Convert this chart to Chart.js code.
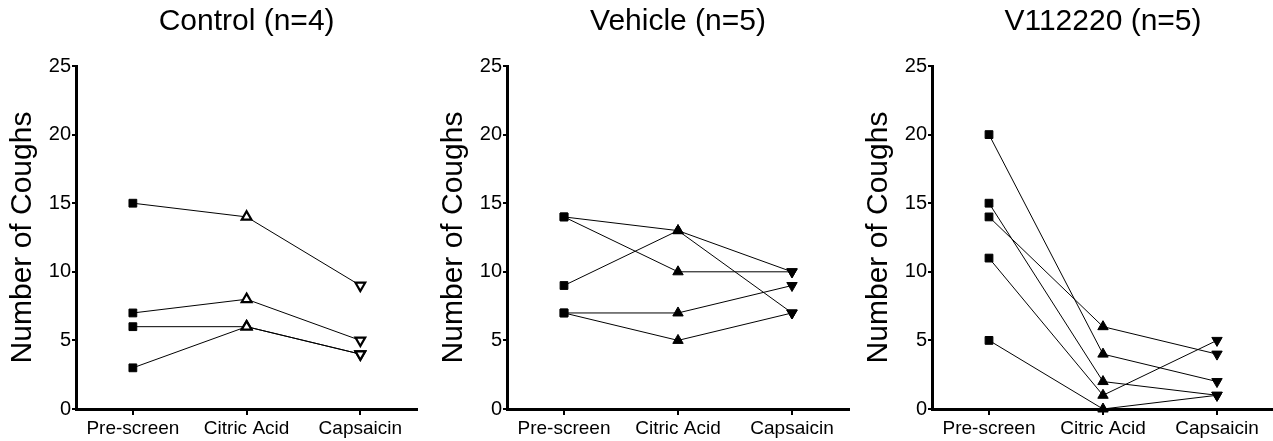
<!DOCTYPE html>
<html>
<head>
<meta charset="utf-8">
<script src="https://cdn.jsdelivr.net/npm/chart.js@4"></script>
<style>
  html, body { margin: 0; padding: 0; background: #fff; overflow: hidden; width: 1273px; height: 441px; }
  canvas { position: absolute; top: 0; }
</style>
</head>
<body>
<canvas id="c1" width="425" height="441" style="left:0px"></canvas>
<canvas id="c2" width="425" height="441" style="left:431px"></canvas>
<canvas id="c3" width="425" height="441" style="left:856px"></canvas>
<script>
// ---- data ----
const categories = ['Pre-screen', 'Citric Acid', 'Capsaicin'];
const yTicks = [0, 5, 10, 15, 20, 25];
const panelTitles = ['Control (n=4)', 'Vehicle (n=5)', 'V112220 (n=5)'];
const yAxisTitle = 'Number of Coughs';

// each row = one subject: [Pre-screen, Citric Acid, Capsaicin]
const controlSubjects = [
  [15, 14, 9],
  [7, 8, 5],
  [6, 6, 4],
  [3, 6, 4]
];
const vehicleSubjects = [
  [14, 13, 10],
  [14, 10, 10],
  [9, 13, 7],
  [7, 7, 9],
  [7, 5, 7]
];
const v112220Subjects = [
  [20, 4, 2],
  [15, 2, 1],
  [14, 6, 4],
  [11, 1, 5],
  [5, 0, 1]
];

// ---- chart builder ----
const FONT = "'Liberation Sans', Arial, Helvetica, sans-serif";

function makeChart(id, title, subjects, openMarkers) {
  const datasets = subjects.map(s => ({
    data: s,
    borderColor: '#000',
    borderWidth: 1,
    tension: 0,
    fill: false,
    clip: false,
    pointStyle: ['rect', 'triangle', 'triangle'],
    pointRotation: [0, 0, 180],
    pointRadius: openMarkers ? [5.5, 5.6, 5.6] : [5.5, 6, 6],
    pointBackgroundColor: openMarkers ? ['#000', '#fff', '#fff'] : '#000',
    pointBorderColor: '#000',
    pointBorderWidth: openMarkers ? [1, 2.2, 2.2] : 1,
    pointHoverRadius: 5
  }));
  return new Chart(document.getElementById(id), {
    type: 'line',
    data: { labels: categories, datasets },
    options: {
      responsive: false,
      animation: false,
      events: [],
      layout: { padding: { left: 0, right: 6, top: 0, bottom: 0 } },
      plugins: {
        legend: { display: false },
        tooltip: { enabled: false },
        title: {
          display: true,
          text: title,
          fullSize: false,
          color: '#000',
          font: { family: FONT, size: 30, weight: 'normal', lineHeight: 1.2 },
          padding: { top: 4, bottom: 26 }
        }
      },
      scales: {
        x: {
          type: 'category',
          offset: true,
          border: { display: true, color: '#000', width: 3 },
          grid: { drawOnChartArea: false, drawTicks: true, tickLength: 6, color: '#000', lineWidth: 2, offset: false },
          ticks: { color: '#000', padding: 2, font: { family: FONT, size: 19 }, maxRotation: 0, autoSkip: false },
          afterFit: s => { s.height = 32; }
        },
        y: {
          min: 0,
          max: 25,
          afterBuildTicks: s => { s.ticks = yTicks.map(v => ({ value: v })); },
          border: { display: true, color: '#000', width: 3 },
          grid: { drawOnChartArea: false, drawTicks: true, tickLength: 4, color: '#000', lineWidth: 2 },
          ticks: { color: '#000', padding: 1, font: { family: FONT, size: 20 } },
          title: {
            display: true,
            text: yAxisTitle,
            color: '#000',
            font: { family: FONT, size: 30, weight: 'normal', lineHeight: 1.2 },
            padding: { top: 5, bottom: 0 }
          },
          afterFit: s => { s.width = 76; }
        }
      }
    }
  });
}

makeChart('c1', panelTitles[0], controlSubjects, true);
makeChart('c2', panelTitles[1], vehicleSubjects, false);
makeChart('c3', panelTitles[2], v112220Subjects, false);
</script>
</body>
</html>
